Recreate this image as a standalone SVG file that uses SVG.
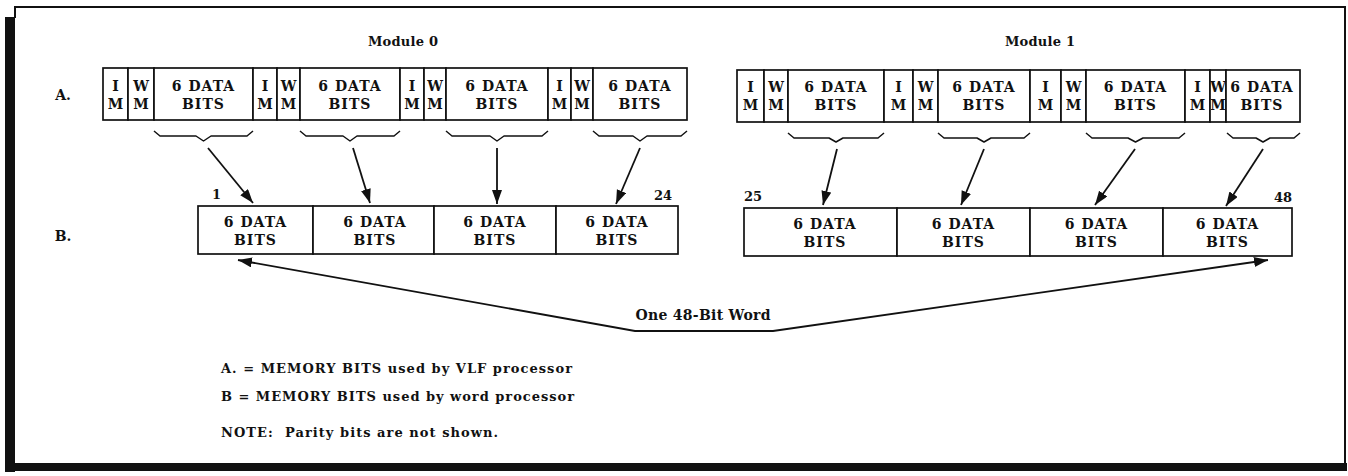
<svg xmlns="http://www.w3.org/2000/svg" width="1348" height="476" viewBox="0 0 1348 476">
  <style>
    .cell { fill: #fff; stroke: #111; stroke-width: 1.7; }
    .t { font-family: "DejaVu Serif", "Liberation Serif", serif; font-weight: bold; font-size: 14px; fill: #111; text-anchor: middle; }
    .d { letter-spacing: 1px; }
    .s { font-family: "DejaVu Serif", "Liberation Serif", serif; font-weight: bold; font-size: 13px; fill: #111; white-space: pre; }
    .brace { fill: none; stroke: #111; stroke-width: 1.5; stroke-linejoin: round; }
    .arr { fill: none; stroke: #111; stroke-width: 1.8; marker-end: url(#ah); }
    .word { fill: none; stroke: #111; stroke-width: 1.8; marker-start: url(#ah2); marker-end: url(#ah); }
  </style>
  <defs>
    <marker id="ah" markerUnits="userSpaceOnUse" markerWidth="16" markerHeight="12" refX="14" refY="5" orient="auto">
      <path d="M0,0 L14,5 L0,10 Z" fill="#111"/>
    </marker>
    <marker id="ah2" markerUnits="userSpaceOnUse" markerWidth="16" markerHeight="12" refX="14" refY="5" orient="auto-start-reverse">
      <path d="M0,0 L14,5 L0,10 Z" fill="#111"/>
    </marker>
  </defs>

  <rect width="1348" height="476" fill="#fff"/>

  <!-- page frame -->
  <g id="frame" fill="#111">
    <rect x="15" y="6" width="1331" height="2"/>
    <rect x="14" y="6" width="2" height="12"/>
    <rect x="5" y="17" width="10" height="455"/>
    <rect x="5" y="463" width="1342" height="8"/>
    <rect x="1344" y="6" width="2" height="465"/>
  </g>

  <!-- headings and row labels -->
  <g id="labels">
    <text class="s" x="368" y="46" textLength="70">Module 0</text>
    <text class="s" x="1005" y="46" textLength="70">Module 1</text>
    <text class="t" x="63" y="100">A.</text>
    <text class="t" x="63" y="241">B.</text>
  </g>

  <!-- row A, module 0 -->
  <g id="a0-byte1">
    <rect class="cell" x="103" y="68" width="25" height="52"/>
    <rect class="cell" x="128" y="68" width="26" height="52"/>
    <rect class="cell" x="154" y="68" width="99" height="52"/>
    <text class="t" x="115.5" y="91">I</text><text class="t" x="115.5" y="109">M</text>
    <text class="t" x="141" y="91">W</text><text class="t" x="141" y="109">M</text>
    <text class="t d" x="203.5" y="91">6 DATA</text><text class="t d" x="203.5" y="109">BITS</text>
  </g>
  <g id="a0-byte2">
    <rect class="cell" x="253" y="68" width="24" height="52"/>
    <rect class="cell" x="277" y="68" width="23" height="52"/>
    <rect class="cell" x="300" y="68" width="100" height="52"/>
    <text class="t" x="265" y="91">I</text><text class="t" x="265" y="109">M</text>
    <text class="t" x="288.5" y="91">W</text><text class="t" x="288.5" y="109">M</text>
    <text class="t d" x="350" y="91">6 DATA</text><text class="t d" x="350" y="109">BITS</text>
  </g>
  <g id="a0-byte3">
    <rect class="cell" x="400" y="68" width="24" height="52"/>
    <rect class="cell" x="424" y="68" width="22" height="52"/>
    <rect class="cell" x="446" y="68" width="102" height="52"/>
    <text class="t" x="412" y="91">I</text><text class="t" x="412" y="109">M</text>
    <text class="t" x="435" y="91">W</text><text class="t" x="435" y="109">M</text>
    <text class="t d" x="497" y="91">6 DATA</text><text class="t d" x="497" y="109">BITS</text>
  </g>
  <g id="a0-byte4">
    <rect class="cell" x="548" y="68" width="23" height="52"/>
    <rect class="cell" x="571" y="68" width="22" height="52"/>
    <rect class="cell" x="593" y="68" width="94" height="52"/>
    <text class="t" x="559.5" y="91">I</text><text class="t" x="559.5" y="109">M</text>
    <text class="t" x="582" y="91">W</text><text class="t" x="582" y="109">M</text>
    <text class="t d" x="640" y="91">6 DATA</text><text class="t d" x="640" y="109">BITS</text>
  </g>

  <!-- row A, module 1 -->
  <g id="a1-byte1">
    <rect class="cell" x="737" y="70" width="27" height="52"/>
    <rect class="cell" x="764" y="70" width="24" height="52"/>
    <rect class="cell" x="788" y="70" width="96" height="52"/>
    <text class="t" x="750.5" y="92">I</text><text class="t" x="750.5" y="110">M</text>
    <text class="t" x="776" y="92">W</text><text class="t" x="776" y="110">M</text>
    <text class="t d" x="836" y="92">6 DATA</text><text class="t d" x="836" y="110">BITS</text>
  </g>
  <g id="a1-byte2">
    <rect class="cell" x="884" y="70" width="29" height="52"/>
    <rect class="cell" x="913" y="70" width="25" height="52"/>
    <rect class="cell" x="938" y="70" width="92" height="52"/>
    <text class="t" x="898.5" y="92">I</text><text class="t" x="898.5" y="110">M</text>
    <text class="t" x="925.5" y="92">W</text><text class="t" x="925.5" y="110">M</text>
    <text class="t d" x="984" y="92">6 DATA</text><text class="t d" x="984" y="110">BITS</text>
  </g>
  <g id="a1-byte3">
    <rect class="cell" x="1030" y="70" width="31" height="52"/>
    <rect class="cell" x="1061" y="70" width="25" height="52"/>
    <rect class="cell" x="1086" y="70" width="99" height="52"/>
    <text class="t" x="1045.5" y="92">I</text><text class="t" x="1045.5" y="110">M</text>
    <text class="t" x="1073.5" y="92">W</text><text class="t" x="1073.5" y="110">M</text>
    <text class="t d" x="1135.5" y="92">6 DATA</text><text class="t d" x="1135.5" y="110">BITS</text>
  </g>
  <g id="a1-byte4">
    <rect class="cell" x="1185" y="70" width="25" height="52"/>
    <rect class="cell" x="1210" y="70" width="16" height="52"/>
    <rect class="cell" x="1226" y="70" width="74" height="52"/>
    <text class="t" x="1197.5" y="92">I</text><text class="t" x="1197.5" y="110">M</text>
    <text class="t" x="1218" y="92" font-size="13">W</text><text class="t" x="1218" y="110" font-size="13">M</text>
    <text class="t d" x="1262" y="92">6 DATA</text><text class="t d" x="1262" y="110">BITS</text>
  </g>

  <!-- braces under the data fields -->
  <g id="braces">
    <path class="brace" d="M154,131 L160,136 L196,136 L203.5,141 L211,136 L247,136 L253,131"/>
    <path class="brace" d="M300,131 L306,136 L343,136 L350,141 L357,136 L394,136 L400,131"/>
    <path class="brace" d="M446,131 L452,136 L490,136 L497,141 L504,136 L542,136 L548,131"/>
    <path class="brace" d="M593,131 L599,136 L633,136 L640,141 L647,136 L681,136 L687,131"/>
    <path class="brace" d="M788,133 L794,138 L829,138 L836,142 L843,138 L878,138 L884,133"/>
    <path class="brace" d="M938,133 L944,138 L977,138 L984,142 L991,138 L1024,138 L1030,133"/>
    <path class="brace" d="M1086,133 L1092,138 L1128,138 L1135.5,142 L1143,138 L1179,138 L1185,133"/>
    <path class="brace" d="M1227,133 L1233,138 L1256,138 L1263,142 L1270,138 L1294,138 L1300,133"/>
  </g>

  <!-- row B, module 0 -->
  <g id="b0-1">
    <rect class="cell" x="198" y="206" width="115" height="48"/>
    <text class="t d" x="255.5" y="227">6 DATA</text><text class="t d" x="255.5" y="245">BITS</text>
  </g>
  <g id="b0-2">
    <rect class="cell" x="313" y="206" width="121" height="48"/>
    <text class="t d" x="375" y="227">6 DATA</text><text class="t d" x="375" y="245">BITS</text>
  </g>
  <g id="b0-3">
    <rect class="cell" x="434" y="206" width="122" height="48"/>
    <text class="t d" x="495" y="227">6 DATA</text><text class="t d" x="495" y="245">BITS</text>
  </g>
  <g id="b0-4">
    <rect class="cell" x="556" y="206" width="122" height="48"/>
    <text class="t d" x="617" y="227">6 DATA</text><text class="t d" x="617" y="245">BITS</text>
  </g>

  <!-- row B, module 1 -->
  <g id="b1-1">
    <rect class="cell" x="744" y="208" width="153" height="48"/>
    <text class="t d" x="825" y="229">6 DATA</text><text class="t d" x="825" y="247">BITS</text>
  </g>
  <g id="b1-2">
    <rect class="cell" x="897" y="208" width="133" height="48"/>
    <text class="t d" x="963.5" y="229">6 DATA</text><text class="t d" x="963.5" y="247">BITS</text>
  </g>
  <g id="b1-3">
    <rect class="cell" x="1030" y="208" width="133" height="48"/>
    <text class="t d" x="1096.5" y="229">6 DATA</text><text class="t d" x="1096.5" y="247">BITS</text>
  </g>
  <g id="b1-4">
    <rect class="cell" x="1163" y="208" width="129" height="48"/>
    <text class="t d" x="1227.5" y="229">6 DATA</text><text class="t d" x="1227.5" y="247">BITS</text>
  </g>

  <!-- bit numbers -->
  <g id="bit-numbers">
    <text class="s" x="212" y="199">1</text>
    <text class="s" x="672" y="200" text-anchor="end">24</text>
    <text class="s" x="744" y="201">25</text>
    <text class="s" x="1292" y="202" text-anchor="end">48</text>
  </g>

  <!-- connectors -->
  <g id="connectors">
    <line class="arr" x1="208" y1="148" x2="253" y2="203"/>
    <line class="arr" x1="353" y1="148" x2="370" y2="203"/>
    <line class="arr" x1="497" y1="148" x2="497" y2="204"/>
    <line class="arr" x1="640" y1="148" x2="616" y2="204"/>
    <line class="arr" x1="837" y1="149" x2="823" y2="205"/>
    <line class="arr" x1="984" y1="149" x2="961" y2="205"/>
    <line class="arr" x1="1135" y1="149" x2="1095" y2="205"/>
    <line class="arr" x1="1263" y1="149" x2="1226" y2="206"/>
    <polyline class="word" points="238,260 635,331 773,331 1268,260"/>
  </g>

  <g id="word-label">
    <text class="t" x="703" y="320" textLength="135">One 48-Bit Word</text>
  </g>

  <!-- legend -->
  <g id="legend">
    <text class="s" x="221" y="373" textLength="351">A. = MEMORY BITS used by VLF processor</text>
    <text class="s" x="221" y="401" textLength="353">B = MEMORY BITS used by word processor</text>
    <text class="s" x="221" y="437" textLength="277">NOTE:&#160; Parity bits are not shown.</text>
  </g>
</svg>
